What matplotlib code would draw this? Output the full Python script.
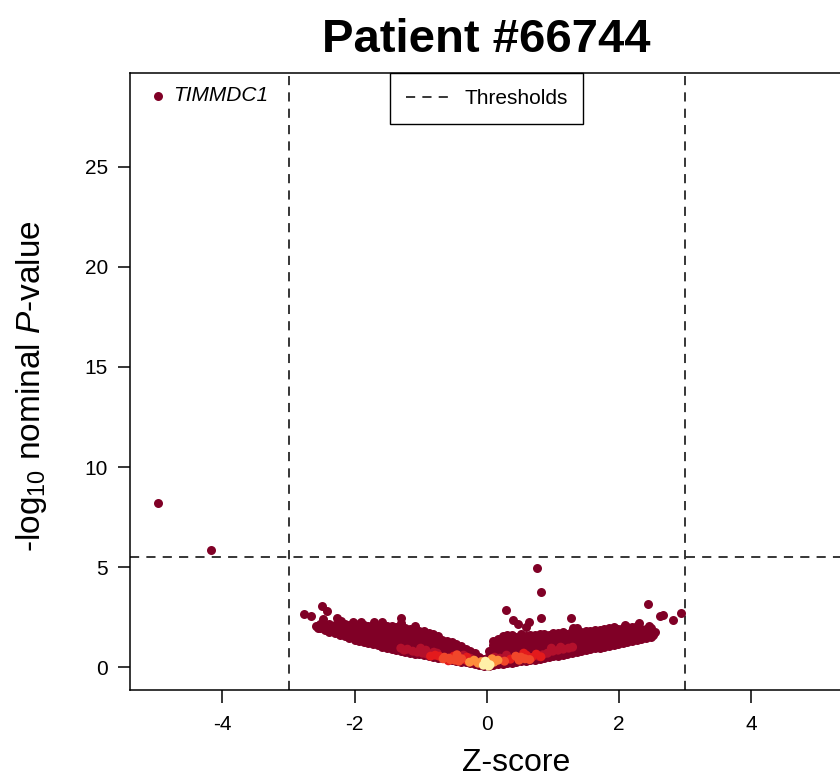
import matplotlib
matplotlib.use("Agg")
import matplotlib.pyplot as plt
from matplotlib.lines import Line2D

plt.rcParams['font.family'] = ['Liberation Sans', 'DejaVu Sans']
plt.rcParams['mathtext.fontset'] = 'custom'
plt.rcParams['mathtext.rm'] = 'Liberation Sans'
plt.rcParams['mathtext.it'] = 'Liberation Sans:italic'
plt.rcParams['axes.unicode_minus'] = False

# ---------------- data ----------------
title = "Patient #66744"
x_label = "Z-score"
y_label = r"-log$_{10}$ nominal $\mathit{P}$-value"
legend_label = "Thresholds"
z_threshold = 3.0
p_threshold = 5.5
x_ticks = [-4, -2, 0, 2, 4]
y_ticks = [0, 5, 10, 15, 20, 25]

# labelled gene
gene_name = "TIMMDC1"
gene_z = -4.97
gene_y = 28.55

# other strong hits
hit_z = [-4.97, -4.17]
hit_y = [8.20, 5.85]

# bulk cloud: column z positions and the y values seen in each column
bulk_col_z = [-2.58, -2.52, -2.45, -2.38, -2.30, -2.22, -2.15, -2.08, -2.00, -1.93, -1.86, -1.79,
              -1.72, -1.65, -1.58, -1.51, -1.44, -1.37, -1.30, -1.23, -1.16, -1.09,
              -1.02, -0.95, -0.88, -0.81, -0.74, -0.67, -0.60, -0.53, -0.46, -0.39,
              -0.32, -0.25, -0.18, -0.11, -0.04,
              0.03, 0.10, 0.17, 0.24, 0.31, 0.38, 0.45, 0.52, 0.59, 0.66,
              0.73, 0.80, 0.87, 0.94, 1.01, 1.08, 1.15, 1.22, 1.29, 1.36,
              1.43, 1.50, 1.57, 1.64, 1.71, 1.78, 1.85, 1.92, 1.99, 2.06,
              2.13, 2.20, 2.27, 2.34, 2.41, 2.48]
bulk_col_y = [
    [2.05], [1.95, 2.15],
    [1.85, 2.05], [1.75, 2.0, 2.15], [1.7, 1.95, 2.1], [1.6, 1.85, 2.05],
    [1.55, 1.8, 2.0, 2.15], [1.45, 1.7, 1.95, 2.1], [1.35, 1.6, 1.85, 2.05],
    [1.3, 1.55, 1.8, 2.0, 2.15], [1.25, 1.5, 1.75, 1.95, 2.1], [1.2, 1.45, 1.7, 1.9, 2.05],
    [1.15, 1.4, 1.65, 1.85, 2.05], [1.1, 1.35, 1.6, 1.8, 2.0], [1.0, 1.25, 1.5, 1.75, 1.95, 2.1],
    [0.95, 1.2, 1.45, 1.7, 1.9, 2.05], [0.9, 1.15, 1.4, 1.65, 1.85, 2.05], [0.85, 1.1, 1.35, 1.6, 1.8, 2.0],
    [0.8, 1.05, 1.3, 1.55, 1.8, 2.0, 2.2], [0.75, 1.0, 1.25, 1.5, 1.75, 1.95], [0.72, 0.95, 1.2, 1.45, 1.7, 1.9],
    [0.68, 0.9, 1.15, 1.4, 1.65, 1.85, 2.05], [0.64, 0.85, 1.1, 1.35, 1.6, 1.8], [0.6, 0.85, 1.1, 1.35, 1.6, 1.8],
    [0.56, 0.8, 1.05, 1.3, 1.5, 1.7], [0.52, 0.75, 1.0, 1.25, 1.45, 1.65], [0.48, 0.7, 0.95, 1.2, 1.4, 1.55],
    [0.44, 0.65, 0.9, 1.15, 1.35], [0.4, 0.6, 0.85, 1.1, 1.3], [0.36, 0.55, 0.8, 1.05, 1.25],
    [0.32, 0.5, 0.75, 1.0, 1.15], [0.28, 0.5, 0.75, 0.95, 1.05], [0.24, 0.45, 0.7, 0.9],
    [0.2, 0.4, 0.65, 0.8], [0.16, 0.35, 0.55, 0.7], [0.12, 0.3, 0.5], [0.08, 0.25, 0.4],
    [0.08, 0.3, 0.55, 0.8], [0.12, 0.35, 0.6, 0.85, 1.1, 1.3], [0.15, 0.4, 0.65, 0.9, 1.15, 1.4],
    [0.18, 0.4, 0.65, 0.9, 1.15, 1.4, 1.55], [0.2, 0.45, 0.7, 0.95, 1.2, 1.45, 1.6],
    [0.23, 0.45, 0.7, 0.95, 1.2, 1.45, 1.6], [0.26, 0.5, 0.75, 1.0, 1.25, 1.5],
    [0.29, 0.5, 0.75, 1.0, 1.25, 1.5, 1.65], [0.32, 0.55, 0.8, 1.05, 1.3, 1.55],
    [0.35, 0.6, 0.85, 1.1, 1.35, 1.6], [0.38, 0.6, 0.85, 1.1, 1.35, 1.6],
    [0.42, 0.65, 0.9, 1.15, 1.4, 1.65], [0.46, 0.7, 0.95, 1.2, 1.45, 1.65],
    [0.5, 0.7, 0.95, 1.2, 1.45, 1.6], [0.54, 0.75, 1.0, 1.25, 1.5, 1.7],
    [0.58, 0.8, 1.05, 1.3, 1.55, 1.7], [0.62, 0.85, 1.1, 1.35, 1.6, 1.75],
    [0.66, 0.9, 1.15, 1.4, 1.65], [0.7, 0.95, 1.2, 1.45, 1.7, 1.8],
    [0.75, 1.0, 1.25, 1.5, 1.7], [0.8, 1.05, 1.3, 1.55, 1.75], [0.85, 1.1, 1.35, 1.6, 1.8],
    [0.9, 1.1, 1.35, 1.6, 1.8], [0.94, 1.15, 1.4, 1.65, 1.85], [0.98, 1.2, 1.45, 1.7, 1.85],
    [1.02, 1.25, 1.5, 1.75, 1.9], [1.08, 1.3, 1.55, 1.8, 1.95], [1.12, 1.35, 1.6, 1.85, 2.0],
    [1.18, 1.4, 1.65, 1.9], [1.22, 1.45, 1.7, 1.95], [1.28, 1.5, 1.75, 2.0],
    [1.32, 1.55, 1.8, 2.0], [1.38, 1.6, 1.85, 2.05], [1.42, 1.65, 1.9],
    [1.48, 1.7, 1.9], [1.52, 1.75, 1.95],
]

# scattered points above / beside the cloud
sparse_z = [-2.76, -2.66, -2.50, -2.42, -2.48, -2.26, -2.55, -2.03, -1.70, -1.58,
            -1.30, -1.90, -2.20,
            0.29, 0.40, 0.47, 0.64, 0.60, 0.82, 0.82, 0.76, 1.27, 1.30, 1.36,
            2.44, 2.62, 2.67, 2.82, 2.94, 2.30, 2.10, 2.45, 2.47, 2.55, 2.52]
sparse_y = [2.65, 2.55, 3.05, 2.80, 2.40, 2.45, 1.95, 2.25, 2.25, 2.25,
            2.45, 2.25, 2.30,
            2.85, 2.35, 2.15, 2.25, 2.00, 2.45, 3.75, 4.95, 2.45, 1.95, 1.95,
            3.15, 2.55, 2.60, 2.35, 2.70, 2.20, 2.10, 2.05, 1.85, 1.75, 1.60]

# denser core, coloured by density level (0 = medium red ... 4 = pale yellow)
core_z = [-1.20, -1.12, -1.05, -0.97, -0.90, -0.83, -1.00, -0.92, -1.30, -1.25,
          -0.80, -0.75, -0.35, -0.25,
          0.20, 0.30, 0.92, 1.00, 1.08, 1.16, 1.24, 0.98, 1.12, 0.85, 0.78,
          1.30, 0.12,
          -0.85, -0.78, -0.30, -0.20, 0.75, 0.82,
          -0.72, -0.64, -0.57, -0.50, -0.45, -0.38, -0.31, -0.58, -0.66, -0.42,
          -0.55, -0.48,
          0.36, 0.44, 0.52, 0.60, 0.68, 0.27, 0.49, 0.56, 0.58, 0.65,
          -0.26, -0.19, -0.13, 0.11, 0.17, 0.08, -0.08,
          -0.05, 0.00, 0.05, -0.02, 0.03]
core_y = [0.90, 0.80, 0.75, 0.70, 0.65, 0.60, 0.95, 0.85, 0.95, 0.85,
          0.75, 0.70, 0.60, 0.45,
          0.45, 0.60, 0.70, 0.80, 0.85, 0.90, 0.95, 0.95, 1.00, 0.62, 0.55,
          1.00, 0.50,
          0.55, 0.60, 0.50, 0.30, 0.65, 0.52,
          0.55, 0.50, 0.45, 0.55, 0.62, 0.42, 0.35, 0.32, 0.42, 0.30,
          0.38, 0.35,
          0.40, 0.55, 0.50, 0.60, 0.48, 0.30, 0.35, 0.70, 0.42, 0.38,
          0.25, 0.35, 0.20, 0.25, 0.35, 0.42, 0.28,
          0.10, 0.20, 0.12, 0.30, 0.05]
core_level = [0, 0, 0, 0, 0, 0, 0, 0, 0, 0,
              0, 0, 0, 0,
              0, 0, 0, 0, 0, 0, 0, 0, 0, 0, 0,
              0, 0,
              1, 1, 1, 1, 1, 1,
              1, 2, 2, 1, 2, 2, 1, 1, 2, 2,
              2, 2,
              1, 2, 2, 1, 1, 2, 2, 1, 2, 2,
              3, 3, 3, 3, 3, 3, 3,
              4, 4, 4, 4, 4]

# ---------------- styling ----------------
dark = '#800026'
level_colors = ['#B3102C', '#E31A1C', '#F0462A', '#FD8D3C', '#FFF0A8']
dash = (0, (6, 4.7))
msize = 42

fig = plt.figure(figsize=(8.4, 7.8), dpi=100)
ax = fig.add_axes([130 / 840, 90 / 780, (843.4 - 130) / 840, (690 - 73) / 780])
ax.set_xlim(-5.4, 5.4)
ax.set_ylim(-1.14, 29.69)

bulk_z = []
bulk_y = []
for cz, ys in zip(bulk_col_z, bulk_col_y):
    for yv in ys:
        bulk_z.append(cz)
        bulk_y.append(yv)

ax.scatter(bulk_z, bulk_y, s=msize, c=dark, linewidths=0, zorder=2)
ax.scatter(sparse_z, sparse_y, s=msize, c=dark, linewidths=0, zorder=2)
ax.scatter(hit_z, hit_y, s=msize, c=dark, linewidths=0, zorder=2)
ax.scatter([gene_z], [gene_y], s=msize, c=dark, linewidths=0, zorder=2)
core_cols = [level_colors[l] for l in core_level]
order = sorted(range(len(core_z)), key=lambda i: core_level[i])
ax.scatter([core_z[i] for i in order], [core_y[i] for i in order], s=msize,
           c=[core_cols[i] for i in order], linewidths=0, zorder=3)

ax.text(gene_z + 0.22, gene_y, gene_name, fontsize=15, style='italic',
        ha='left', va='center')

# thresholds
ax.axvline(-z_threshold, color='black', lw=1.1, linestyle=dash, zorder=1)
ax.axvline(z_threshold, color='black', lw=1.1, linestyle=dash, zorder=1)
ax.axhline(p_threshold, color='black', lw=1.1, linestyle=dash, zorder=1)

# axes styling
for side in ['left', 'bottom', 'top', 'right']:
    ax.spines[side].set_linewidth(1.1)
ax.set_xticks(x_ticks)
ax.set_yticks(y_ticks)
ax.tick_params(axis='both', direction='out', length=9, width=1.1, labelsize=15)
ax.tick_params(axis='x', pad=9)
ax.tick_params(axis='y', pad=7)

leg_handle = Line2D([], [], color='black', lw=1.1, linestyle=dash)
leg = ax.legend([leg_handle], [legend_label], loc='upper center',
                bbox_to_anchor=(0.5, 1.0), borderaxespad=0, fontsize=15,
                handlelength=2.2, handletextpad=0.6, borderpad=0.76,
                frameon=True, fancybox=False, framealpha=1)
leg.get_frame().set_edgecolor('black')
leg.get_frame().set_linewidth(1.0)

fig.text(486.5 / 840, 1 - 52 / 780, title, fontsize=34, fontweight='bold',
         ha='center', va='baseline')
fig.text(516 / 840, 1 - 771 / 780, x_label, fontsize=23, ha='center', va='baseline')
fig.text(32 / 840, 1 - 386 / 780, y_label, fontsize=24, rotation=90,
         ha='center', va='center')

fig.savefig('out.png', dpi=100)
